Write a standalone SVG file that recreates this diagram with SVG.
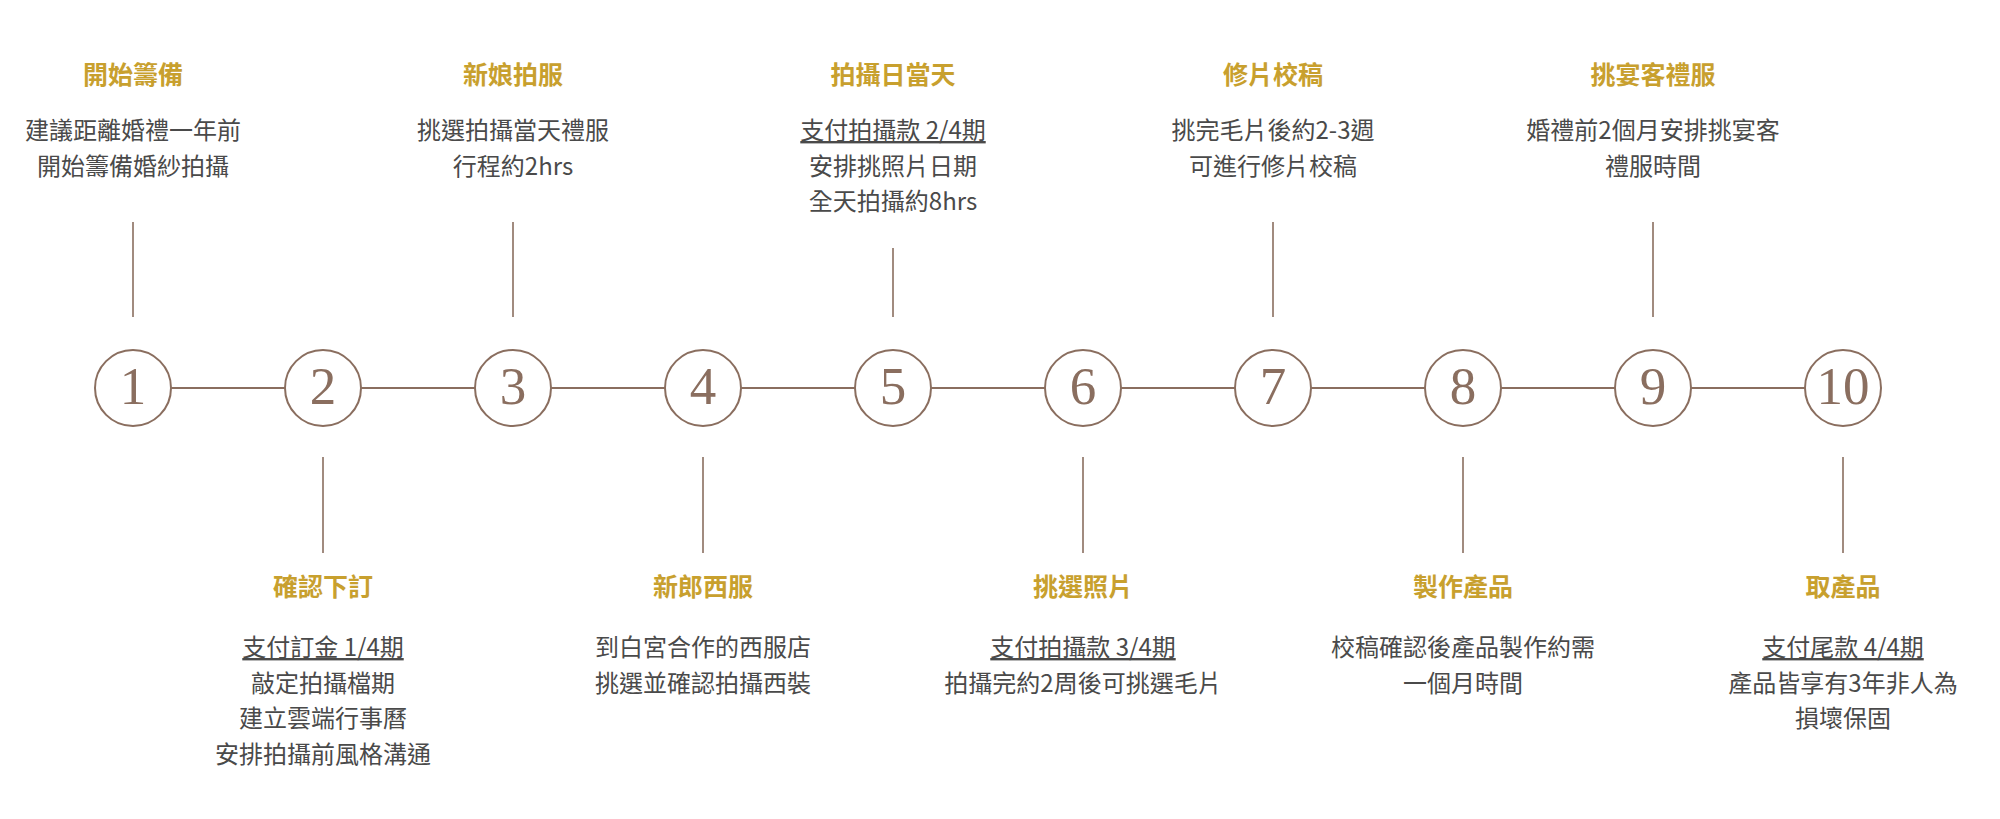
<svg xmlns="http://www.w3.org/2000/svg" width="2000" height="819" viewBox="0 0 2000 819">
<style>
.t{font-family:"Noto Sans CJK TC","Noto Sans CJK SC",sans-serif;font-size:25px;font-weight:700;fill:#c8a02e;text-anchor:middle}
.b{font-family:"Noto Sans CJK TC","Noto Sans CJK SC",sans-serif;font-size:24px;font-weight:400;fill:#4a4a4a;text-anchor:middle}
.u{text-decoration:underline}
.n{font-family:"Liberation Serif",serif;font-size:53px;fill:#8a6e5f;text-anchor:middle}
.c{fill:#fff;stroke:#8a6e5f;stroke-width:2}
.l{stroke:#8a6e5f;stroke-width:1.6;fill:none}
.h{stroke:#8a6e5f;stroke-width:2;fill:none}
</style>
<rect width="2000" height="819" fill="#fff"/>
<g id="connectors">
<line class="h" x1="171" y1="388" x2="285" y2="388"/>
<line class="h" x1="361" y1="388" x2="475" y2="388"/>
<line class="h" x1="551" y1="388" x2="665" y2="388"/>
<line class="h" x1="741" y1="388" x2="855" y2="388"/>
<line class="h" x1="931" y1="388" x2="1045" y2="388"/>
<line class="h" x1="1121" y1="388" x2="1235" y2="388"/>
<line class="h" x1="1311" y1="388" x2="1425" y2="388"/>
<line class="h" x1="1501" y1="388" x2="1615" y2="388"/>
<line class="h" x1="1691" y1="388" x2="1805" y2="388"/>
<line class="l" x1="133" y1="222" x2="133" y2="317"/>
<line class="l" x1="323" y1="457" x2="323" y2="553"/>
<line class="l" x1="513" y1="222" x2="513" y2="317"/>
<line class="l" x1="703" y1="457" x2="703" y2="553"/>
<line class="l" x1="893" y1="248" x2="893" y2="317"/>
<line class="l" x1="1083" y1="457" x2="1083" y2="553"/>
<line class="l" x1="1273" y1="222" x2="1273" y2="317"/>
<line class="l" x1="1463" y1="457" x2="1463" y2="553"/>
<line class="l" x1="1653" y1="222" x2="1653" y2="317"/>
<line class="l" x1="1843" y1="457" x2="1843" y2="553"/>
</g>
<g id="step1">
<circle class="c" cx="133" cy="388" r="38"/><text class="n" x="133" y="404">1</text>
<text class="t" x="133" y="83.5">開始籌備</text>
<text class="b" x="133" y="139">建議距離婚禮一年前</text>
<text class="b" x="133" y="174.5">開始籌備婚紗拍攝</text>
</g>
<g id="step2">
<circle class="c" cx="323" cy="388" r="38"/><text class="n" x="323" y="404">2</text>
<text class="t" x="323" y="596">確認下訂</text>
<text class="b u" x="323" y="656">支付訂金 1/4期</text>
<text class="b" x="323" y="691.5">敲定拍攝檔期</text>
<text class="b" x="323" y="727">建立雲端行事曆</text>
<text class="b" x="323" y="762.5">安排拍攝前風格溝通</text>
</g>
<g id="step3">
<circle class="c" cx="513" cy="388" r="38"/><text class="n" x="513" y="404">3</text>
<text class="t" x="513" y="83.5">新娘拍服</text>
<text class="b" x="513" y="139">挑選拍攝當天禮服</text>
<text class="b" x="513" y="174.5">行程約2hrs</text>
</g>
<g id="step4">
<circle class="c" cx="703" cy="388" r="38"/><text class="n" x="703" y="404">4</text>
<text class="t" x="703" y="596">新郎西服</text>
<text class="b" x="703" y="656">到白宮合作的西服店</text>
<text class="b" x="703" y="691.5">挑選並確認拍攝西裝</text>
</g>
<g id="step5">
<circle class="c" cx="893" cy="388" r="38"/><text class="n" x="893" y="404">5</text>
<text class="t" x="893" y="83.5">拍攝日當天</text>
<text class="b u" x="893" y="139">支付拍攝款 2/4期</text>
<text class="b" x="893" y="174.5">安排挑照片日期</text>
<text class="b" x="893" y="210">全天拍攝約8hrs</text>
</g>
<g id="step6">
<circle class="c" cx="1083" cy="388" r="38"/><text class="n" x="1083" y="404">6</text>
<text class="t" x="1083" y="596">挑選照片</text>
<text class="b u" x="1083" y="656">支付拍攝款 3/4期</text>
<text class="b" x="1083" y="691.5">拍攝完約2周後可挑選毛片</text>
</g>
<g id="step7">
<circle class="c" cx="1273" cy="388" r="38"/><text class="n" x="1273" y="404">7</text>
<text class="t" x="1273" y="83.5">修片校稿</text>
<text class="b" x="1273" y="139">挑完毛片後約2-3週</text>
<text class="b" x="1273" y="174.5">可進行修片校稿</text>
</g>
<g id="step8">
<circle class="c" cx="1463" cy="388" r="38"/><text class="n" x="1463" y="404">8</text>
<text class="t" x="1463" y="596">製作產品</text>
<text class="b" x="1463" y="656">校稿確認後產品製作約需</text>
<text class="b" x="1463" y="691.5">一個月時間</text>
</g>
<g id="step9">
<circle class="c" cx="1653" cy="388" r="38"/><text class="n" x="1653" y="404">9</text>
<text class="t" x="1653" y="83.5">挑宴客禮服</text>
<text class="b" x="1653" y="139">婚禮前2個月安排挑宴客</text>
<text class="b" x="1653" y="174.5">禮服時間</text>
</g>
<g id="step10">
<circle class="c" cx="1843" cy="388" r="38"/><text class="n" x="1843" y="404">10</text>
<text class="t" x="1843" y="596">取產品</text>
<text class="b u" x="1843" y="656">支付尾款 4/4期</text>
<text class="b" x="1843" y="691.5">產品皆享有3年非人為</text>
<text class="b" x="1843" y="727">損壞保固</text>
</g>
</svg>
